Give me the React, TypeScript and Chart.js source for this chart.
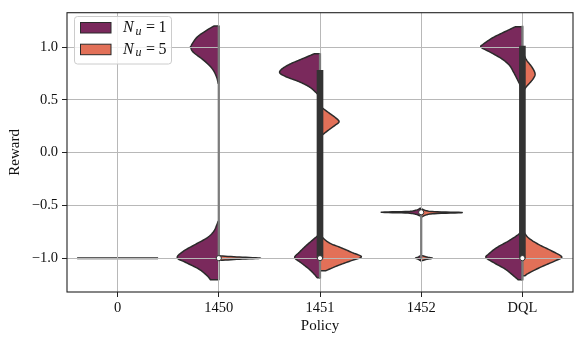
import React, { useEffect, useRef } from "react";
import { Chart, registerables } from "chart.js";

Chart.register(...registerables);

// ---------- data ----------
const categories = ["0", "1450", "1451", "1452", "DQL"];
const yTickValues = [-1.0, -0.5, 0.0, 0.5, 1.0];
const seriesNames = ["1", "5"]; // N_u values
const seriesColors = ["#7a295c", "#e27058"];

// violin half profiles: [reward, half-width in category units]
const p0Nu1 = [[-1.0, 0.4]];
const p0Nu5 = [[-1.0, 0.4]];

const p1450Nu1Upper = [[1.2, 0.049], [1.155, 0.128], [1.093, 0.217], [1.015, 0.273], [1.0, 0.277], [0.953, 0.253], [0.875, 0.148], [0.797, 0.066], [0.72, 0.023], [0.657, 0.006]];
const p1450Nu1Lower = [[-0.651, 0.006], [-0.745, 0.049], [-0.807, 0.116], [-0.869, 0.23], [-0.932, 0.346], [-0.995, 0.411], [-1.041, 0.326], [-1.103, 0.198], [-1.166, 0.116], [-1.206, 0.082]];
const p1450Nu5 = [[-0.978, 0.002], [-0.99, 0.205], [-1.0, 0.412], [-1.01, 0.205], [-1.022, 0.002]];

const p1451Nu1Upper = [[0.937, 0.059], [0.89, 0.174], [0.844, 0.287], [0.797, 0.372], [0.757, 0.398], [0.72, 0.336], [0.673, 0.208], [0.626, 0.109], [0.579, 0.049], [0.538, 0.008]];
const p1451Nu1Lower = [[-0.776, 0.008], [-0.822, 0.065], [-0.885, 0.141], [-0.948, 0.208], [-0.995, 0.25], [-1.041, 0.191], [-1.103, 0.109], [-1.15, 0.059], [-1.187, 0.026]];
const p1451Nu5Upper = [[0.423, 0.023], [0.377, 0.089], [0.33, 0.155], [0.292, 0.188], [0.252, 0.138], [0.206, 0.073], [0.165, 0.02]];
const p1451Nu5Lower = [[-0.79, 0.008], [-0.854, 0.089], [-0.9, 0.205], [-0.948, 0.32], [-0.988, 0.409], [-1.026, 0.303], [-1.072, 0.172], [-1.12, 0.056]];

const p1452Nu1Upper = [[-0.527, 0.01], [-0.545, 0.05], [-0.557, 0.13], [-0.565, 0.395], [-0.573, 0.13], [-0.585, 0.05], [-0.6, 0.01]];
const p1452Nu1Lower = [[-0.975, 0.005], [-0.99, 0.03], [-1.0, 0.056], [-1.01, 0.03], [-1.025, 0.005]];
const p1452Nu5Upper = [[-0.535, 0.01], [-0.55, 0.05], [-0.56, 0.13], [-0.568, 0.405], [-0.578, 0.13], [-0.59, 0.05], [-0.608, 0.01]];
const p1452Nu5Lower = [[-0.975, 0.005], [-0.99, 0.06], [-1.0, 0.11], [-1.01, 0.06], [-1.025, 0.005]];

const pDqlNu1Upper = [[1.193, 0.072], [1.155, 0.154], [1.093, 0.287], [1.03, 0.385], [1.0, 0.408], [0.953, 0.319], [0.89, 0.204], [0.828, 0.128], [0.766, 0.089], [0.704, 0.055], [0.641, 0.023], [0.594, 0.005]];
const pDqlNu1Lower = [[-0.74, 0.01], [-0.776, 0.04], [-0.838, 0.138], [-0.9, 0.253], [-0.963, 0.336], [-0.995, 0.359], [-1.041, 0.287], [-1.103, 0.171], [-1.166, 0.089], [-1.206, 0.04]];
const pDqlNu5Upper = [[0.937, 0.01], [0.875, 0.043], [0.813, 0.093], [0.75, 0.125], [0.704, 0.109], [0.657, 0.069], [0.61, 0.027], [0.564, 0.005]];
const pDqlNu5Lower = [[-0.745, 0.01], [-0.807, 0.059], [-0.869, 0.158], [-0.932, 0.29], [-0.988, 0.389], [-1.026, 0.323], [-1.088, 0.175], [-1.144, 0.059], [-1.166, 0.027]];

const nu1Shapes = [[p0Nu1], [p1450Nu1Upper, p1450Nu1Lower], [p1451Nu1Upper, p1451Nu1Lower], [p1452Nu1Upper, p1452Nu1Lower], [pDqlNu1Upper, pDqlNu1Lower]];
const nu5Shapes = [[p0Nu5], [p1450Nu5], [p1451Nu5Upper, p1451Nu5Lower], [p1452Nu5Upper, p1452Nu5Lower], [pDqlNu5Upper, pDqlNu5Lower]];

// inner box plot (combined data)
const whiskerRanges = [null, [-1.0, 1.2], [-1.19, 0.94], [-1.0, -0.565], [-1.21, 1.2]];
const boxRanges = [null, null, [-1.0, 0.78], null, [-1.0, 1.01]];
const medians = [null, -1.0, -1.0, -0.565, -1.0];

// ---------- drawing helpers ----------
const FONT = "'Liberation Serif', 'DejaVu Serif', serif";

function smooth(pts: number[][], steps = 8): number[][] {
  if (pts.length < 3) return pts;
  const out: number[][] = [];
  const n = pts.length;
  for (let i = 0; i < n - 1; i++) {
    const p0 = pts[Math.max(i - 1, 0)], p1 = pts[i], p2 = pts[i + 1], p3 = pts[Math.min(i + 2, n - 1)];
    for (let s = 0; s < steps; s++) {
      const t = s / steps, t2 = t * t, t3 = t2 * t;
      const f = (a: number, b: number, c: number, d: number) =>
        0.5 * (2 * b + (-a + c) * t + (2 * a - 5 * b + 4 * c - d) * t2 + (-a + 3 * b - 3 * c + d) * t3);
      out.push([f(p0[0], p1[0], p2[0], p3[0]), Math.max(0, f(p0[1], p1[1], p2[1], p3[1]))]);
    }
  }
  out.push(pts[n - 1]);
  return out;
}

const violinPlugin = {
  id: "violins",
  beforeDraw(chart: any) {
    const { ctx, scales } = chart;
    const x = scales.x, y = scales.y;
    const cw = x.getPixelForValue(1) - x.getPixelForValue(0);
    ctx.save();
    ctx.beginPath();
    ctx.rect(chart.chartArea.left, chart.chartArea.top, chart.chartArea.right - chart.chartArea.left, chart.chartArea.bottom - chart.chartArea.top);
    ctx.clip();
    ctx.lineJoin = "round";
    ctx.lineWidth = 1.5;
    ctx.strokeStyle = "#2b2b2b";
    [nu1Shapes, nu5Shapes].forEach((shapes, si) => {
      const side = si === 0 ? -1 : 1;
      shapes.forEach((lobes, ci) => {
        const cx = x.getPixelForValue(ci);
        lobes.forEach((lobe) => {
          if (lobe.length === 1) {
            const py = y.getPixelForValue(lobe[0][0]);
            ctx.beginPath();
            ctx.moveTo(cx, py);
            ctx.lineTo(cx + side * lobe[0][1] * cw, py);
            ctx.lineWidth = 2;
            ctx.stroke();
            ctx.lineWidth = 1.5;
            return;
          }
          const pts = smooth(lobe);
          ctx.beginPath();
          ctx.moveTo(cx, y.getPixelForValue(pts[0][0]));
          pts.forEach((p) => ctx.lineTo(cx + side * p[1] * cw, y.getPixelForValue(p[0])));
          ctx.lineTo(cx, y.getPixelForValue(pts[pts.length - 1][0]));
          ctx.closePath();
          ctx.fillStyle = seriesColors[si];
          ctx.fill();
          ctx.stroke();
        });
      });
    });
    ctx.restore();
  },
  afterDraw(chart: any) {
    const { ctx, chartArea } = chart;
    ctx.save();
    // frame
    ctx.strokeStyle = "#222";
    ctx.lineWidth = 1.1;
    ctx.strokeRect(chartArea.left, chartArea.top, chartArea.right - chartArea.left, chartArea.bottom - chartArea.top);
    // legend
    const lx = 74.5, ly = 16.5, lw = 97, lh = 47.5, r = 3;
    ctx.beginPath();
    ctx.moveTo(lx + r, ly);
    ctx.arcTo(lx + lw, ly, lx + lw, ly + lh, r);
    ctx.arcTo(lx + lw, ly + lh, lx, ly + lh, r);
    ctx.arcTo(lx, ly + lh, lx, ly, r);
    ctx.arcTo(lx, ly, lx + lw, ly, r);
    ctx.closePath();
    ctx.fillStyle = "rgba(255,255,255,0.8)";
    ctx.fill();
    ctx.strokeStyle = "#cccccc";
    ctx.lineWidth = 1;
    ctx.stroke();
    seriesNames.forEach((name, i) => {
      const ry = 22.5 + i * 21.7;
      ctx.fillStyle = seriesColors[i];
      ctx.fillRect(80.5, ry, 30.5, 10.5);
      ctx.strokeStyle = "#2b2b2b";
      ctx.lineWidth = 1;
      ctx.strokeRect(80.5, ry, 30.5, 10.5);
      const ty = ry + 5.5;
      ctx.fillStyle = "#111";
      ctx.textBaseline = "middle";
      ctx.textAlign = "left";
      ctx.font = `italic 16px ${FONT}`;
      ctx.fillText("N", 123, ty);
      ctx.font = `italic 12px ${FONT}`;
      ctx.fillText("u", 135.5, ty + 3.5);
      ctx.font = `16px ${FONT}`;
      ctx.fillText("=", 146, ty);
      ctx.fillText(name, 158.5, ty);
    });
    ctx.restore();
  },
};

export default function App() {
  const ref = useRef<HTMLCanvasElement | null>(null);
  useEffect(() => {
    if (!ref.current) return;
    const chart = new Chart(ref.current, {
      type: "bar",
      data: {
        labels: categories,
        datasets: [
          {
            type: "line",
            label: "median",
            data: medians as any,
            showLine: false,
            pointRadius: 2.6,
            pointBorderWidth: 1,
            pointBackgroundColor: "#ffffff",
            pointBorderColor: "#2b2b2b",
            order: 0,
          } as any,
          {
            label: "box",
            data: boxRanges as any,
            backgroundColor: "#333333",
            barThickness: 6,
            grouped: false,
            order: 1,
          } as any,
          {
            label: "whisker",
            data: whiskerRanges as any,
            backgroundColor: "#7c7c7c",
            barThickness: 1.6,
            grouped: false,
            order: 2,
          } as any,
        ],
      },
      options: {
        animation: false,
        responsive: false,
        layout: { padding: { top: 8, right: 9, left: 0, bottom: 0 } },
        plugins: { legend: { display: false }, tooltip: { enabled: false } },
        scales: {
          x: {
            offset: true,
            grid: { offset: false, color: "#b8b8b8", lineWidth: 1, tickLength: 5, tickColor: "#222" },
            border: { display: false },
            ticks: { color: "#111", font: { family: FONT, size: 14.5 }, padding: 2, maxRotation: 0 },
            title: { display: true, text: "Policy", color: "#111", font: { family: FONT, size: 15 }, padding: { top: 0, bottom: 8 } },
            afterFit: (s: any) => { s.height = 51; },
          },
          y: {
            min: -1.321,
            max: 1.327,
            afterBuildTicks: (s: any) => { s.ticks = yTickValues.map((v) => ({ value: v })); },
            grid: { color: "#b8b8b8", lineWidth: 1, tickLength: 5, tickColor: "#222" },
            border: { display: false },
            ticks: {
              color: "#111",
              font: { family: FONT, size: 14.5 },
              padding: 4,
              callback: (v: any) => (Number(v) < 0 ? "\u2212" + Math.abs(Number(v)).toFixed(1) : Number(v).toFixed(1)),
            },
            title: { display: true, text: "Reward", color: "#111", font: { family: FONT, size: 15 }, padding: { top: 6, bottom: 0 } },
            afterFit: (s: any) => { s.width = 67; },
          },
        },
      },
      plugins: [violinPlugin],
    } as any);
    return () => chart.destroy();
  }, []);
  return (
    <div style={{ position: "absolute", left: 0, top: 0, width: 582, height: 343, background: "#fff" }}>
      <canvas ref={ref} width={582} height={343} style={{ display: "block" }} />
    </div>
  );
}
